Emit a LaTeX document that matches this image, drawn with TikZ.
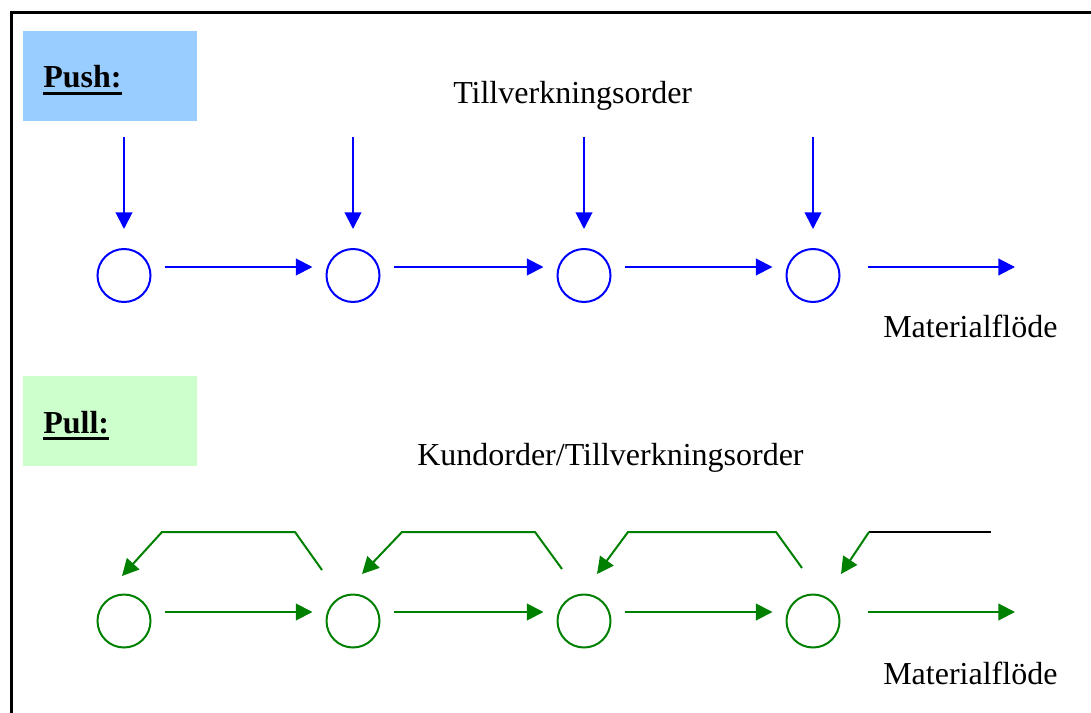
\documentclass[tikz,border=0pt]{standalone}
\usepackage{fontspec}
\setmainfont{Liberation Serif}
\usetikzlibrary{arrows.meta}
\definecolor{pushfill}{HTML}{99CCFF}
\definecolor{pullfill}{HTML}{CCFFCC}
\definecolor{pushblue}{HTML}{0000FF}
\definecolor{pullgreen}{HTML}{008000}
% heading with a heavy underline
\newcommand\headul[1]{\setbox0\hbox{#1}\rlap{\raisebox{-4.9pt}{\rule{\wd0}{1.9pt}}}\box0}
\tikzset{
  label text/.style={anchor=base west, inner sep=0pt, font=\fontsize{24}{28}\selectfont},
  heading/.style={anchor=base west, inner sep=0pt, font=\fontsize{24}{28}\selectfont\bfseries},
  station/.style={circle, draw, line width=1.5pt, minimum size=39.75pt, inner sep=0pt},
  pushline/.style={pushblue, line width=1.5pt},
  pullline/.style={pullgreen, line width=1.5pt},
  tip/.style={-{Triangle[length=12.5pt,width=12.5pt]}},
}
\begin{document}
\begin{tikzpicture}[x=0.75pt, y=-0.75pt]
\useasboundingbox (0,0) rectangle (1091,713);
% outer frame (only top and left edges fall inside the page)
\draw[line width=2.25pt] (11,713) -- (11,13) -- (1091,13);

% ---------- Push ----------
\fill[pushfill] (23,31) rectangle (197,121);
\node[heading] (pushhead) at (43,88) {\headul{Push:}};
\node[label text] (order1) at (453,104) {Tillverkningsorder};

\foreach \i/\x in {1/124, 2/353, 3/584, 4/813}
  \node[station, pushblue] (p\i) at (\x,275.5) {};

\foreach \i in {1,...,4} {
  \coordinate (t\i) at ([shift={(0,-138.5)}]p\i.center);
  \draw[pushline, tip] (t\i) -- ([shift={(0,-19)}]p\i.north);
}
\foreach \a/\b in {1/2, 2/3, 3/4}
  \draw[pushline, tip] ([shift={(13,-8.5)}]p\a.east) -- ([shift={(-13,-8.5)}]p\b.west);
\coordinate (pout) at (1015,267);
\draw[pushline, tip] ([shift={(27,-8.5)}]p4.east) -- (pout);
\node[label text] (mat1) at (883,337) {Materialflöde};

% ---------- Pull ----------
\fill[pullfill] (23,376) rectangle (197,466);
\node[heading] (pullhead) at (43,433) {\headul{Pull:}};
\node[label text] (order2) at (417,465) {Kundorder/Tillverkningsorder};

\foreach \i/\x in {1/124, 2/353, 3/584, 4/813}
  \node[station, pullgreen] (q\i) at (\x,621) {};

\foreach \a/\b in {1/2, 2/3, 3/4}
  \draw[pullline, tip] ([shift={(13,-9)}]q\a.east) -- ([shift={(-13,-9)}]q\b.west);
\coordinate (qout) at (1015,612);
\draw[pullline, tip] ([shift={(27,-9)}]q4.east) -- (qout);
\node[label text] (mat2) at (883,684) {Materialflöde};

% feedback signals flowing upstream
\draw[pullline, tip] ([shift={(-31,-51)}]q2.center) -- ([shift={(-58,-89)}]q2.center)
  -- ([shift={(38,-89)}]q1.center) -- ([shift={(-2,-45)}]q1.center);
\draw[pullline, tip] ([shift={(-22,-52)}]q3.center) -- ([shift={(-49,-89)}]q3.center)
  -- ([shift={(49,-89)}]q2.center) -- ([shift={(9,-47)}]q2.center);
\draw[pullline, tip] ([shift={(-11,-53)}]q4.center) -- ([shift={(-37,-89)}]q4.center)
  -- ([shift={(44,-89)}]q3.center) -- ([shift={(13,-47)}]q3.center);
\coordinate (cust) at (991,532);
\coordinate (custbend) at ([shift={(56,-89)}]q4.center);
\draw[line width=1.5pt] (cust) -- (custbend);
\draw[pullline, tip] (custbend) -- ([shift={(28,-47)}]q4.center);
\end{tikzpicture}
\end{document}
